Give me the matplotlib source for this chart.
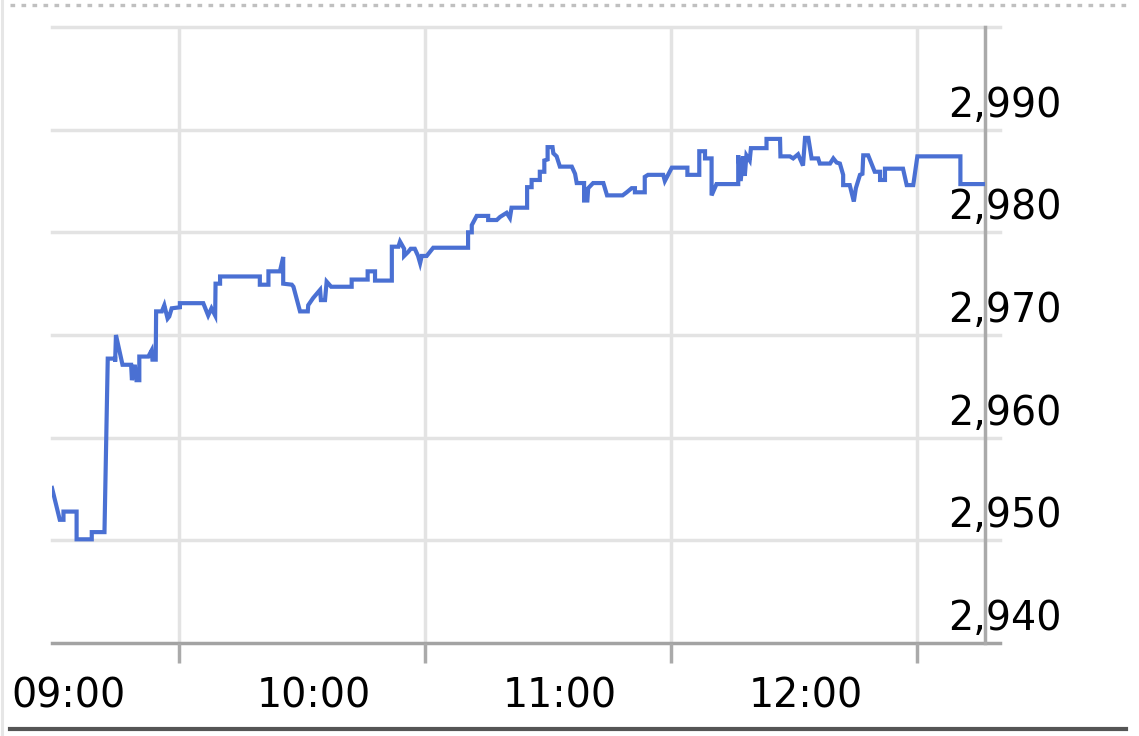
import matplotlib
matplotlib.use("Agg")
import matplotlib.pyplot as plt
from matplotlib.lines import Line2D
from matplotlib.transforms import offset_copy

# intraday index, minutes after 09:00
minutes = [
    -1.0, 0.9, 1.8, 1.8, 5.0, 5.0, 8.7, 8.7, 11.8, 12.6, 14.4, 14.4, 14.6, 16.2,
    18.3, 18.5, 19.2, 19.6, 20.3, 20.3, 22.5, 23.3, 23.5, 24.3, 24.4, 25.8,
    26.4, 27.2, 27.6, 28.2, 30.2, 30.2, 35.9, 36.3, 37.1, 37.9, 38.8, 38.9,
    40.0, 40.0, 49.7, 49.7, 51.8, 51.8, 54.6, 55.4, 55.4, 57.5, 57.9, 59.5,
    61.4, 61.5, 62.7, 64.4, 64.6, 65.6, 66.0, 67.1, 72.1, 72.1, 76.0, 76.0,
    77.8, 77.8, 81.9, 81.9, 83.5, 83.9, 84.9, 84.9, 85.9, 86.5, 87.5, 88.3,
    88.8, 89.2, 90.4, 92.0, 100.5, 100.5, 101.4, 101.4, 102.6, 105.4, 105.4,
    107.5, 108.3, 109.9, 110.7, 111.1, 114.9, 114.9, 116.0, 116.0, 118.0,
    118.0, 119.1, 119.1, 119.9, 119.9, 121.1, 121.3, 122.1, 122.9, 125.8,
    126.6, 127.0, 128.8, 128.8, 129.6, 129.8, 131.0, 133.5, 134.4, 138.2,
    139.2, 140.4, 141.2, 141.2, 143.6, 143.6, 144.4, 148.1, 148.5, 150.2,
    154.0, 154.0, 156.9, 156.9, 158.3, 158.3, 159.9, 159.9, 161.1, 166.4,
    166.4, 167.0, 167.6, 168.0, 168.4, 169.2, 169.5, 173.3, 173.3, 176.6,
    176.7, 179.0, 179.8, 181.0, 182.2, 182.7, 183.5, 184.3, 185.9, 186.3,
    188.8, 189.6, 190.4, 191.2, 192.0, 192.0, 193.6, 194.6, 195.1, 196.1,
    196.7, 196.9, 198.1, 199.7, 201.0, 201.0, 202.2, 202.2, 206.6, 207.5,
    209.1, 210.1, 220.6, 220.6, 226.2,
]
prices = [
    2955.1, 2952.0, 2952.0, 2952.8, 2952.8, 2950.1, 2950.1, 2950.8, 2950.8,
    2967.7, 2967.7, 2967.4, 2970.0, 2967.1, 2967.1, 2965.6, 2967.1, 2965.6,
    2965.6, 2967.9, 2967.9, 2968.5, 2967.6, 2967.6, 2972.3, 2972.3, 2972.9,
    2971.6, 2971.8, 2972.6, 2972.7, 2973.1, 2973.1, 2972.7, 2971.9, 2972.6,
    2971.9, 2975.0, 2975.0, 2975.7, 2975.7, 2974.9, 2974.9, 2976.2, 2976.2,
    2977.6, 2975.0, 2974.9, 2974.7, 2972.3, 2972.3, 2972.9, 2973.6, 2974.4,
    2973.4, 2973.4, 2975.2, 2974.7, 2974.7, 2975.4, 2975.4, 2976.2, 2976.2,
    2975.3, 2975.3, 2978.6, 2978.6, 2979.1, 2978.4, 2977.7, 2978.1, 2978.4,
    2978.4, 2977.7, 2977.0, 2977.7, 2977.7, 2978.5, 2978.5, 2980.0, 2980.0,
    2980.7, 2981.6, 2981.6, 2981.2, 2981.2, 2981.5, 2981.9, 2981.4, 2982.4,
    2982.4, 2984.4, 2984.4, 2985.1, 2985.1, 2985.9, 2985.9, 2987.0, 2987.1,
    2988.3, 2988.3, 2987.7, 2987.4, 2986.4, 2986.4, 2985.7, 2984.8, 2984.8,
    2983.1, 2983.1, 2984.3, 2984.8, 2984.8, 2983.6, 2983.6, 2983.9, 2984.3,
    2984.3, 2983.9, 2983.9, 2985.4, 2985.6, 2985.6, 2985.0, 2986.3, 2986.3,
    2985.6, 2985.6, 2987.9, 2987.9, 2987.2, 2987.2, 2983.6, 2984.7, 2984.7,
    2987.5, 2985.0, 2987.4, 2985.5, 2987.5, 2987.0, 2988.2, 2988.2, 2989.1,
    2989.1, 2987.4, 2987.4, 2987.2, 2987.6, 2986.5, 2989.2, 2989.2, 2987.2,
    2987.2, 2986.7, 2986.7, 2987.2, 2986.8, 2986.7, 2985.6, 2984.6, 2984.6,
    2983.0, 2984.3, 2985.6, 2985.7, 2987.5, 2987.5, 2985.9, 2985.9, 2985.1,
    2985.1, 2986.2, 2986.2, 2984.6, 2984.6, 2987.4, 2987.4, 2984.7, 2984.7,
]

y_ticks = [2940, 2950, 2960, 2970, 2980, 2990, 3000]
y_labels = ["2,940", "2,950", "2,960", "2,970", "2,980", "2,990"]
grid_minutes = [30, 90, 150, 210]
hour_minutes = [0, 60, 120, 180]
hour_labels = ["09:00", "10:00", "11:00", "12:00"]

W, H = 1139, 736
fig = plt.figure(figsize=(W / 100, H / 100), dpi=100)
ax = fig.add_axes([52 / W, 93 / H, 933 / W, 616 / H])

ax.set_xlim(-1.0, 226.6)
ax.set_ylim(2940, 3000)

# grid
for v in y_ticks[1:]:
    ax.axhline(v, xmin=0, xmax=948 / 933, color="#e3e3e3", lw=2.5,
               zorder=0, clip_on=False)
ax.axhline(2940, xmin=0, xmax=948 / 933, color="#a3a3a3", lw=2.5,
           zorder=1, clip_on=False)
for m in grid_minutes:
    ax.axvline(m, color="#e3e3e3", lw=2.5, zorder=0)

ax.set_xticks(grid_minutes)
ax.set_xticklabels([])
ax.tick_params(axis="x", length=14.5, width=2.5, color="#aaaaaa")
ax.set_yticks([])

for side in ["top", "left", "bottom"]:
    ax.spines[side].set_visible(False)
ax.spines["right"].set_color("#aaaaaa")
ax.spines["right"].set_linewidth(2.5)

# price line
ax.plot(minutes, prices, color="#4a70d3", lw=3.0, zorder=3,
        solid_joinstyle="miter")

# y labels sit just above their grid line, over the right axis
ytrans = offset_copy(ax.get_yaxis_transform(), fig=fig, x=-37, y=13, units="dots")
for v, lab in zip(y_ticks, y_labels):
    ax.text(1.0, v, lab, transform=ytrans, ha="left", va="baseline",
            fontsize=28.5, color="black", clip_on=False)

# x labels
xtrans = offset_copy(ax.get_xaxis_transform(), fig=fig, x=12, y=-65, units="dots")
for m, lab in zip(hour_minutes, hour_labels):
    ax.text(m, 0, lab, transform=xtrans, ha="center", va="baseline",
            fontsize=28.5, color="black", clip_on=False)

# frame decorations
fig.add_artist(Line2D([10 / W, 1127 / W], [1 - 5 / H, 1 - 5 / H],
                      color="#c0c0c0", lw=2.4, linestyle=(0, (1.4, 1.9))))
fig.add_artist(Line2D([10 / W, 1126 / W], [1 - 729 / H, 1 - 729 / H],
                      color="#555555", lw=3.0))
fig.add_artist(Line2D([1.5 / W, 1.5 / W], [0, 1], color="#e6e6e6", lw=2.2))

fig.savefig("out.png", dpi=100)
